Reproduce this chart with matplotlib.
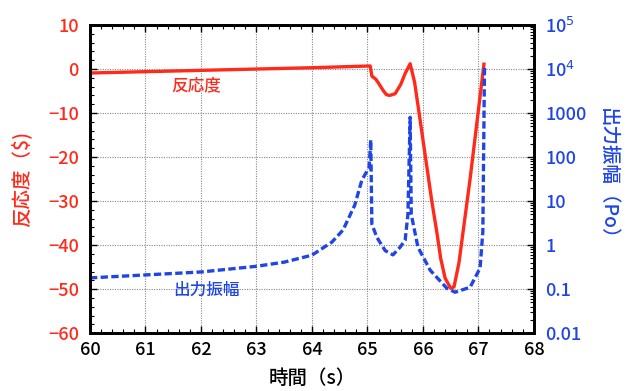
import matplotlib
matplotlib.use("Agg")
import matplotlib.pyplot as plt
from matplotlib.ticker import MultipleLocator, FixedLocator, FixedFormatter, LogLocator, NullFormatter

plt.rcParams['font.family'] = ['Noto Sans CJK JP', 'DejaVu Sans']

# reactivity ($)
react_t = [60.0, 61.0, 62.0, 63.0, 64.0, 65.05, 65.08, 65.15, 65.2, 65.28, 65.34, 65.4,
           65.5, 65.6, 65.68, 65.77, 65.85, 65.92, 66.0, 66.08, 66.16, 66.25, 66.32,
           66.4, 66.5, 66.56, 66.65, 66.85, 67.1]
react_v = [-0.9, -0.6, -0.3, 0.0, 0.3, 0.7, -1.6, -2.3, -3.2, -4.8, -5.8, -6.0,
           -5.6, -3.5, -1.0, 1.2, -3.0, -9.0, -16.0, -23.0, -30.0, -37.0, -43.0,
           -47.5, -49.8, -49.5, -44.0, -25.0, 1.1]

# power amplitude (Po)
power_t = [60.0, 61.0, 62.0, 63.0, 63.5, 64.0, 64.36, 64.56, 64.77, 64.9, 65.0, 65.03,
           65.06, 65.08, 65.17, 65.32, 65.46, 65.59, 65.68, 65.73, 65.77, 65.79,
           65.91, 66.13, 66.43, 66.58, 66.85, 67.03, 67.08, 67.11]
power_v = [0.18, 0.21, 0.245, 0.33, 0.41, 0.59, 1.17, 2.2, 8, 30, 50, 56,
           245, 3, 1.5, 0.75, 0.6, 0.9, 1.3, 5, 800, 5,
           0.9, 0.27, 0.105, 0.085, 0.11, 0.3, 2, 11000]

right_ticks = [0.01, 0.1, 1, 10, 100, 1000, 1e4, 1e5]
right_labels = ['0.01', '0.1', '1', '10', '100', '1000', '10$^4$', '10$^5$']

red = '#ff2a1a'
blue = '#1f45e6'

fig = plt.figure(figsize=(6.27, 3.91), dpi=100)
ax = fig.add_axes([0.1435, 0.148, 0.708, 0.788])
ax2 = ax.twinx()

ax.plot(react_t, react_v, color=red, lw=2.4, zorder=3)
ax2.plot(power_t, power_v, color=blue, lw=2.4, ls=(0, (2.2, 1.0)))

ax.set_xlim(60, 68)
ax.set_ylim(-60, 10)
ax2.set_yscale('log')
ax2.set_ylim(0.01, 1e5)

ax.xaxis.set_major_locator(MultipleLocator(1))
ax.xaxis.set_minor_locator(MultipleLocator(0.2))
ax.yaxis.set_major_locator(MultipleLocator(10))
ax.yaxis.set_minor_locator(MultipleLocator(2))
ax2.yaxis.set_major_locator(FixedLocator(right_ticks))
ax2.yaxis.set_major_formatter(FixedFormatter(right_labels))
ax2.yaxis.set_minor_locator(LogLocator(base=10, subs=range(2, 10)))
ax2.yaxis.set_minor_formatter(NullFormatter())

ax.grid(True, which='major', color='#888888', ls=(0, (1, 1.2)), lw=0.8)

ax.tick_params(axis='both', which='both', direction='in', top=True)
ax.tick_params(which='major', length=5, width=1)
ax.tick_params(which='minor', length=3, width=0.8)
ax.tick_params(axis='y', labelcolor=red, labelsize=13, pad=8)
ax.tick_params(axis='x', labelsize=13, pad=6)
ax2.tick_params(axis='y', which='both', direction='in', labelcolor=blue, labelsize=13, pad=8)
ax2.tick_params(which='major', length=5, width=1)
ax2.tick_params(which='minor', length=3, width=0.8)
for lab in ax.get_xticklabels() + ax.get_yticklabels() + ax2.get_yticklabels():
    lab.set_fontweight('medium')

for a in (ax, ax2):
    for s in a.spines.values():
        s.set_linewidth(2)

ax.set_xlabel('時間（s）', fontsize=14, fontweight='medium', labelpad=7)
ax.set_ylabel('反応度（$)', fontsize=14, fontweight='medium', color=red, labelpad=12)
ax2.set_ylabel('出力振幅（Po）', fontsize=14, fontweight='medium', color=blue, rotation=270, labelpad=22)

ax.text(61.91, -3.6, '反応度', color=red, fontsize=12, fontweight='medium', ha='center', va='center')
ax.text(62.1, -50.2, '出力振幅', color=blue, fontsize=12, fontweight='medium', ha='center', va='center')

fig.savefig('out.png', dpi=100)
